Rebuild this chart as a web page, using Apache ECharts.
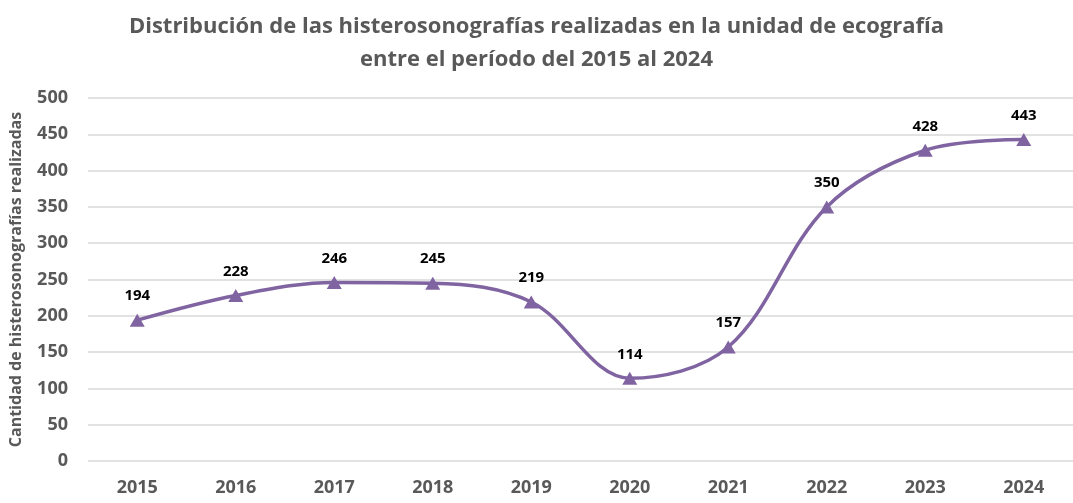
<!DOCTYPE html>
<html><head><meta charset="utf-8">
<script src="https://cdn.jsdelivr.net/npm/echarts@6/dist/echarts.min.js"></script>
<style>html,body{margin:0;padding:0;background:#fff}#c{width:1073px;height:503px}</style>
</head><body><div id="c"></div>
<script>
const categories = ['2015','2016','2017','2018','2019','2020','2021','2022','2023','2024'];
const values = [194,228,246,245,219,114,157,350,428,443];
const titleText = 'Distribución de las histerosonografías realizadas en la unidad de ecografía\nentre el período del 2015 al 2024';
const yAxisName = 'Cantidad de histerosonografías realizadas';
const FONT = "'Liberation Sans Narrow','Open Sans',sans-serif";
const chart = echarts.init(document.getElementById('c'), null, {renderer:'canvas'});
chart.setOption({
  animation:false,
  backgroundColor:'#fff',
  title:{text:titleText,left:'center',top:5,textStyle:{fontFamily:FONT,fontWeight:'bold',fontSize:22,color:'#595959',lineHeight:33}},
  grid:{left:86,right:-5,top:98,bottom:42,containLabel:false},
  xAxis:{type:'category',data:categories,boundaryGap:true,
    axisLine:{show:false},axisTick:{show:false},
    axisLabel:{fontFamily:FONT,fontSize:18,fontWeight:'bold',color:'#595959',margin:18}},
  yAxis:{type:'value',min:0,max:500,interval:50,
    name:yAxisName,nameLocation:'middle',nameGap:64,nameRotate:90,
    nameTextStyle:{fontFamily:FONT,fontSize:16,fontWeight:'bold',color:'#595959'},
    axisLine:{show:false},axisTick:{show:false},
    splitLine:{lineStyle:{color:'#d9d9d9',width:1.5}},
    axisLabel:{fontFamily:FONT,fontSize:18,fontWeight:'bold',color:'#595959',margin:20}},
  series:[{type:'line',data:values,smooth:0.35,
    lineStyle:{color:'#8064a2',width:3.5},
    itemStyle:{color:'#8064a2'},
    symbol:'triangle',symbolSize:[15,13],
    label:{show:true,position:'top',distance:10,fontFamily:FONT,fontSize:15,fontWeight:'bold',color:'#000'}}]
});
</script></body></html>
